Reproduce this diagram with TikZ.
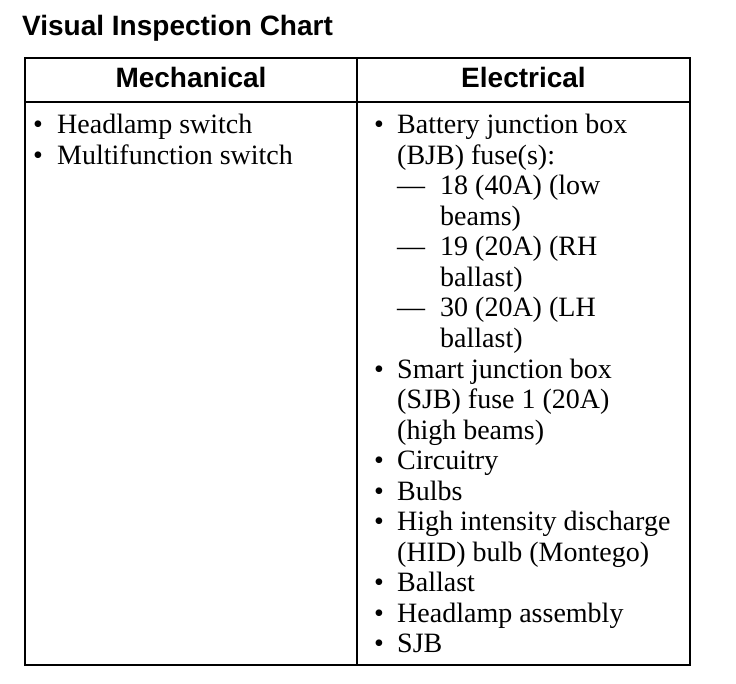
\documentclass[tikz,border=0pt]{standalone}
\usepackage{fontspec}
\setmainfont{Liberation Serif}
\newfontfamily\hdfont{Liberation Sans}
\begin{document}
\begin{tikzpicture}[x=1pt,y=-1pt,
  body/.style={inner sep=0pt,anchor=base west,font=\fontsize{28}{30.5}\selectfont},
  head/.style={inner sep=0pt,anchor=base,font=\hdfont\bfseries\fontsize{28}{30}\selectfont},
  rule/.style={line width=2pt}]
\useasboundingbox (0,0) rectangle (736,684);
% title
\node[inner sep=0pt,anchor=base west,font=\hdfont\bfseries\fontsize{28}{30}\selectfont] (title) at (22,36) {Visual Inspection Chart};
% table frame
\draw[rule] (25,58) rectangle (690,665);
\draw[rule] (25,102) -- (690,102);
\draw[rule] (357,58) -- (357,665);
% headers
\node[head] (hmech) at (191,88) {Mechanical};
\node[head] (helec) at (523.5,88) {Electrical};
% mechanical column
\node[body] (mb1) at (33,134) {•};
\node[body] (m1) at (57,134) {Headlamp switch};
\node[body] (mb2) at (33,164.5) {•};
\node[body] (m2) at (57,164.5) {Multifunction switch};
% electrical column: continuation lines
\foreach \i/\x/\t in {1/397/(BJB) fuse(s):, 3/440/beams), 5/440/ballast), 7/440/ballast), 9/397/(SJB) fuse 1 (20A), 10/397/(high beams), 14/397/(HID) bulb (Montego)}{
  \pgfmathsetmacro\yy{134+30.5*\i}
  \node[body] (e\i) at (\x,\yy) {\t};
}
% electrical column: dash items
\foreach \i/\t in {2/18 (40A) (low, 4/19 (20A) (RH, 6/30 (20A) (LH}{
  \pgfmathsetmacro\yy{134+30.5*\i}
  \node[body] (ed\i) at (397,\yy) {—};
  \node[body] (e\i) at (440,\yy) {\t};
}
% electrical column: bullet items
\foreach \i/\t in {0/Battery junction box, 8/Smart junction box, 11/Circuitry, 12/Bulbs, 13/High intensity discharge, 15/Ballast, 16/Headlamp assembly, 17/SJB}{
  \pgfmathsetmacro\yy{134+30.5*\i}
  \node[body] (eb\i) at (374,\yy) {•};
  \node[body] (e\i) at (397,\yy) {\t};
}
\end{tikzpicture}
\end{document}
